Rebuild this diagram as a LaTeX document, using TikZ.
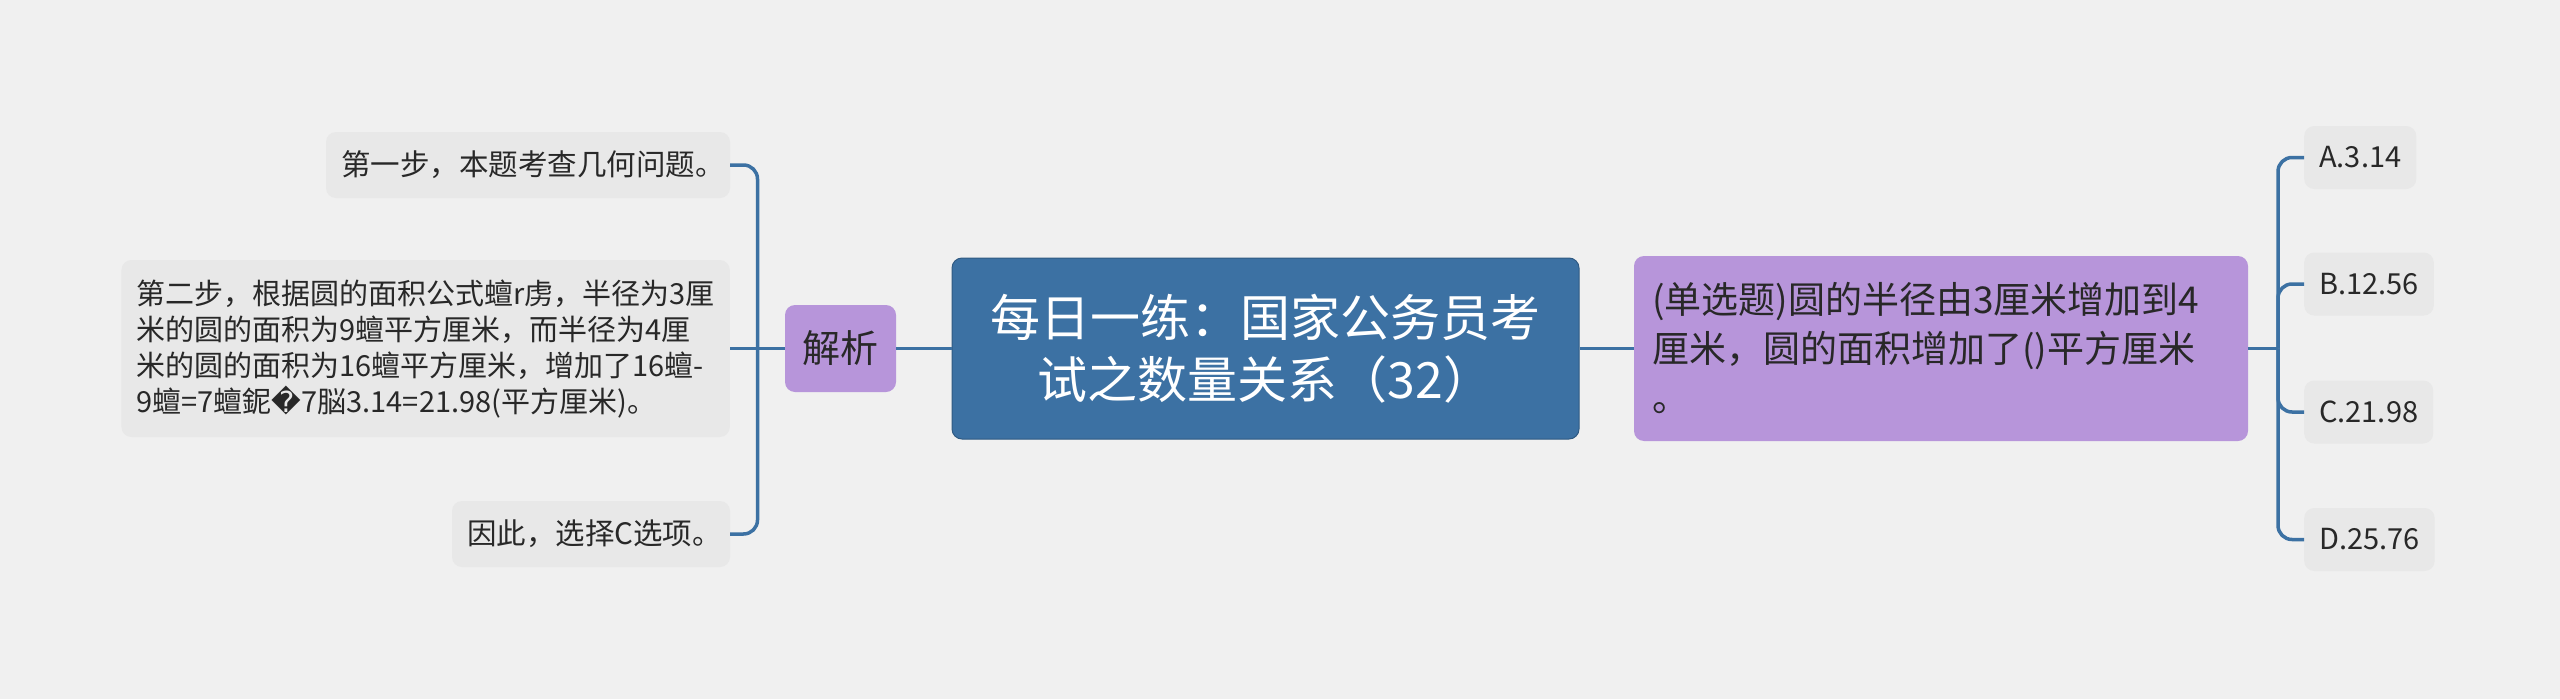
\documentclass[tikz,border=0pt]{standalone}
\usepackage{fontspec}
\setmainfont{Noto Sans CJK SC}
\newfontfamily\dejavu{DejaVu Sans}
\definecolor{fundo}{RGB}{240,240,240}
\definecolor{cinza}{RGB}{232,232,232}
\definecolor{azul}{RGB}{60,113,163}
\definecolor{roxo}{RGB}{183,149,218}
\definecolor{texto}{RGB}{40,40,40}
\begin{document}
\begin{tikzpicture}[x=1pt,y=1pt,
tema/.style={rectangle,rounded corners=10pt,fill=azul,draw=azul!80!black,line width=1pt,
text=white,align=center,
minimum width=627pt,
minimum height=181pt,
font=\fontsize{50pt}{62pt}\selectfont},
ramo/.style={rectangle,rounded corners=10pt,fill=roxo,text=texto,
inner xsep=18pt,
font=\fontsize{37pt}{49pt}\selectfont},
folha/.style={rectangle,rounded corners=10pt,fill=cinza,text=texto,
inner xsep=15pt,align=left,
minimum height=66pt,
font=\fontsize{29.5pt}{36pt}\selectfont},
ligacao/.style={draw=azul,line width=3.5pt,rounded corners=14pt}
]

% fundo
\fill[fundo] (0,0) rectangle (2560,-699);

% centro
\node[tema] (centro) at (1265.5,-348.5)
{每日一练：国家公务员考\\试之数量关系（32）};

% esquerda
\node[ramo,minimum width=111pt,minimum height=87pt,inner xsep=0pt,
font=\fontsize{38pt}{49pt}\selectfont] (jiexi) at (840.5,-348.5) {解析};
\node[folha,text width=374pt] (passo1) at (528,-165) {第一步，本题考查几何问题。};
\node[folha,minimum width=606pt,minimum height=177pt,anchor=east,
font=\fontsize{29pt}{36pt}\selectfont] (passo2) at (730,-348.5)
{第二步，根据圆的面积公式蟺r虏，半径为3厘\\米的圆的面积为9蟺平方厘米，而半径为4厘\\米的圆的面积为16蟺平方厘米，增加了16蟺-\\9蟺=7蟺鈮{\dejavu �}7脳3.14=21.98(平方厘米)。};
\node[folha,text width=248pt] (passo3) at (591,-534) {因此，选择C选项。};

% direita
\node[ramo,minimum width=614pt,minimum height=185pt,text width=578pt,align=left] (questao) at (1941,-348.5)
{(单选题)圆的半径由3厘米增加到4\\厘米，圆的面积增加了()平方厘米\\。};
\node[folha,minimum height=63pt,anchor=west,font=\fontsize{29pt}{36pt}\selectfont] (opA) at (2304,-157.5) {A.3.14};
\node[folha,minimum height=63pt,anchor=west,font=\fontsize{29pt}{36pt}\selectfont] (opB) at (2304,-284) {B.12.56};
\node[folha,minimum height=63pt,anchor=west,font=\fontsize{29pt}{36pt}\selectfont] (opC) at (2304,-412) {C.21.98};
\node[folha,minimum height=63pt,anchor=west,font=\fontsize{29pt}{36pt}\selectfont] (opD) at (2304,-539.5) {D.25.76};

% ligacoes
\coordinate (juncE) at (757.5,-348.5);
\coordinate (juncD) at (2278,-348.5);
\draw[ligacao] (centro.west) -- (jiexi.east);
\draw[ligacao] (jiexi.west) -- (juncE);
\draw[ligacao] (juncE) |- (passo1.east);
\draw[ligacao] (juncE) -- (passo2.east);
\draw[ligacao] (juncE) |- (passo3.east);
\draw[ligacao] (centro.east) -- (questao.west);
\draw[ligacao] (questao.east) -- (juncD);
\draw[ligacao] (juncD) |- (opA.west);
\draw[ligacao] (juncD) |- (opB.west);
\draw[ligacao] (juncD) |- (opC.west);
\draw[ligacao] (juncD) |- (opD.west);

\end{tikzpicture}
\end{document}
